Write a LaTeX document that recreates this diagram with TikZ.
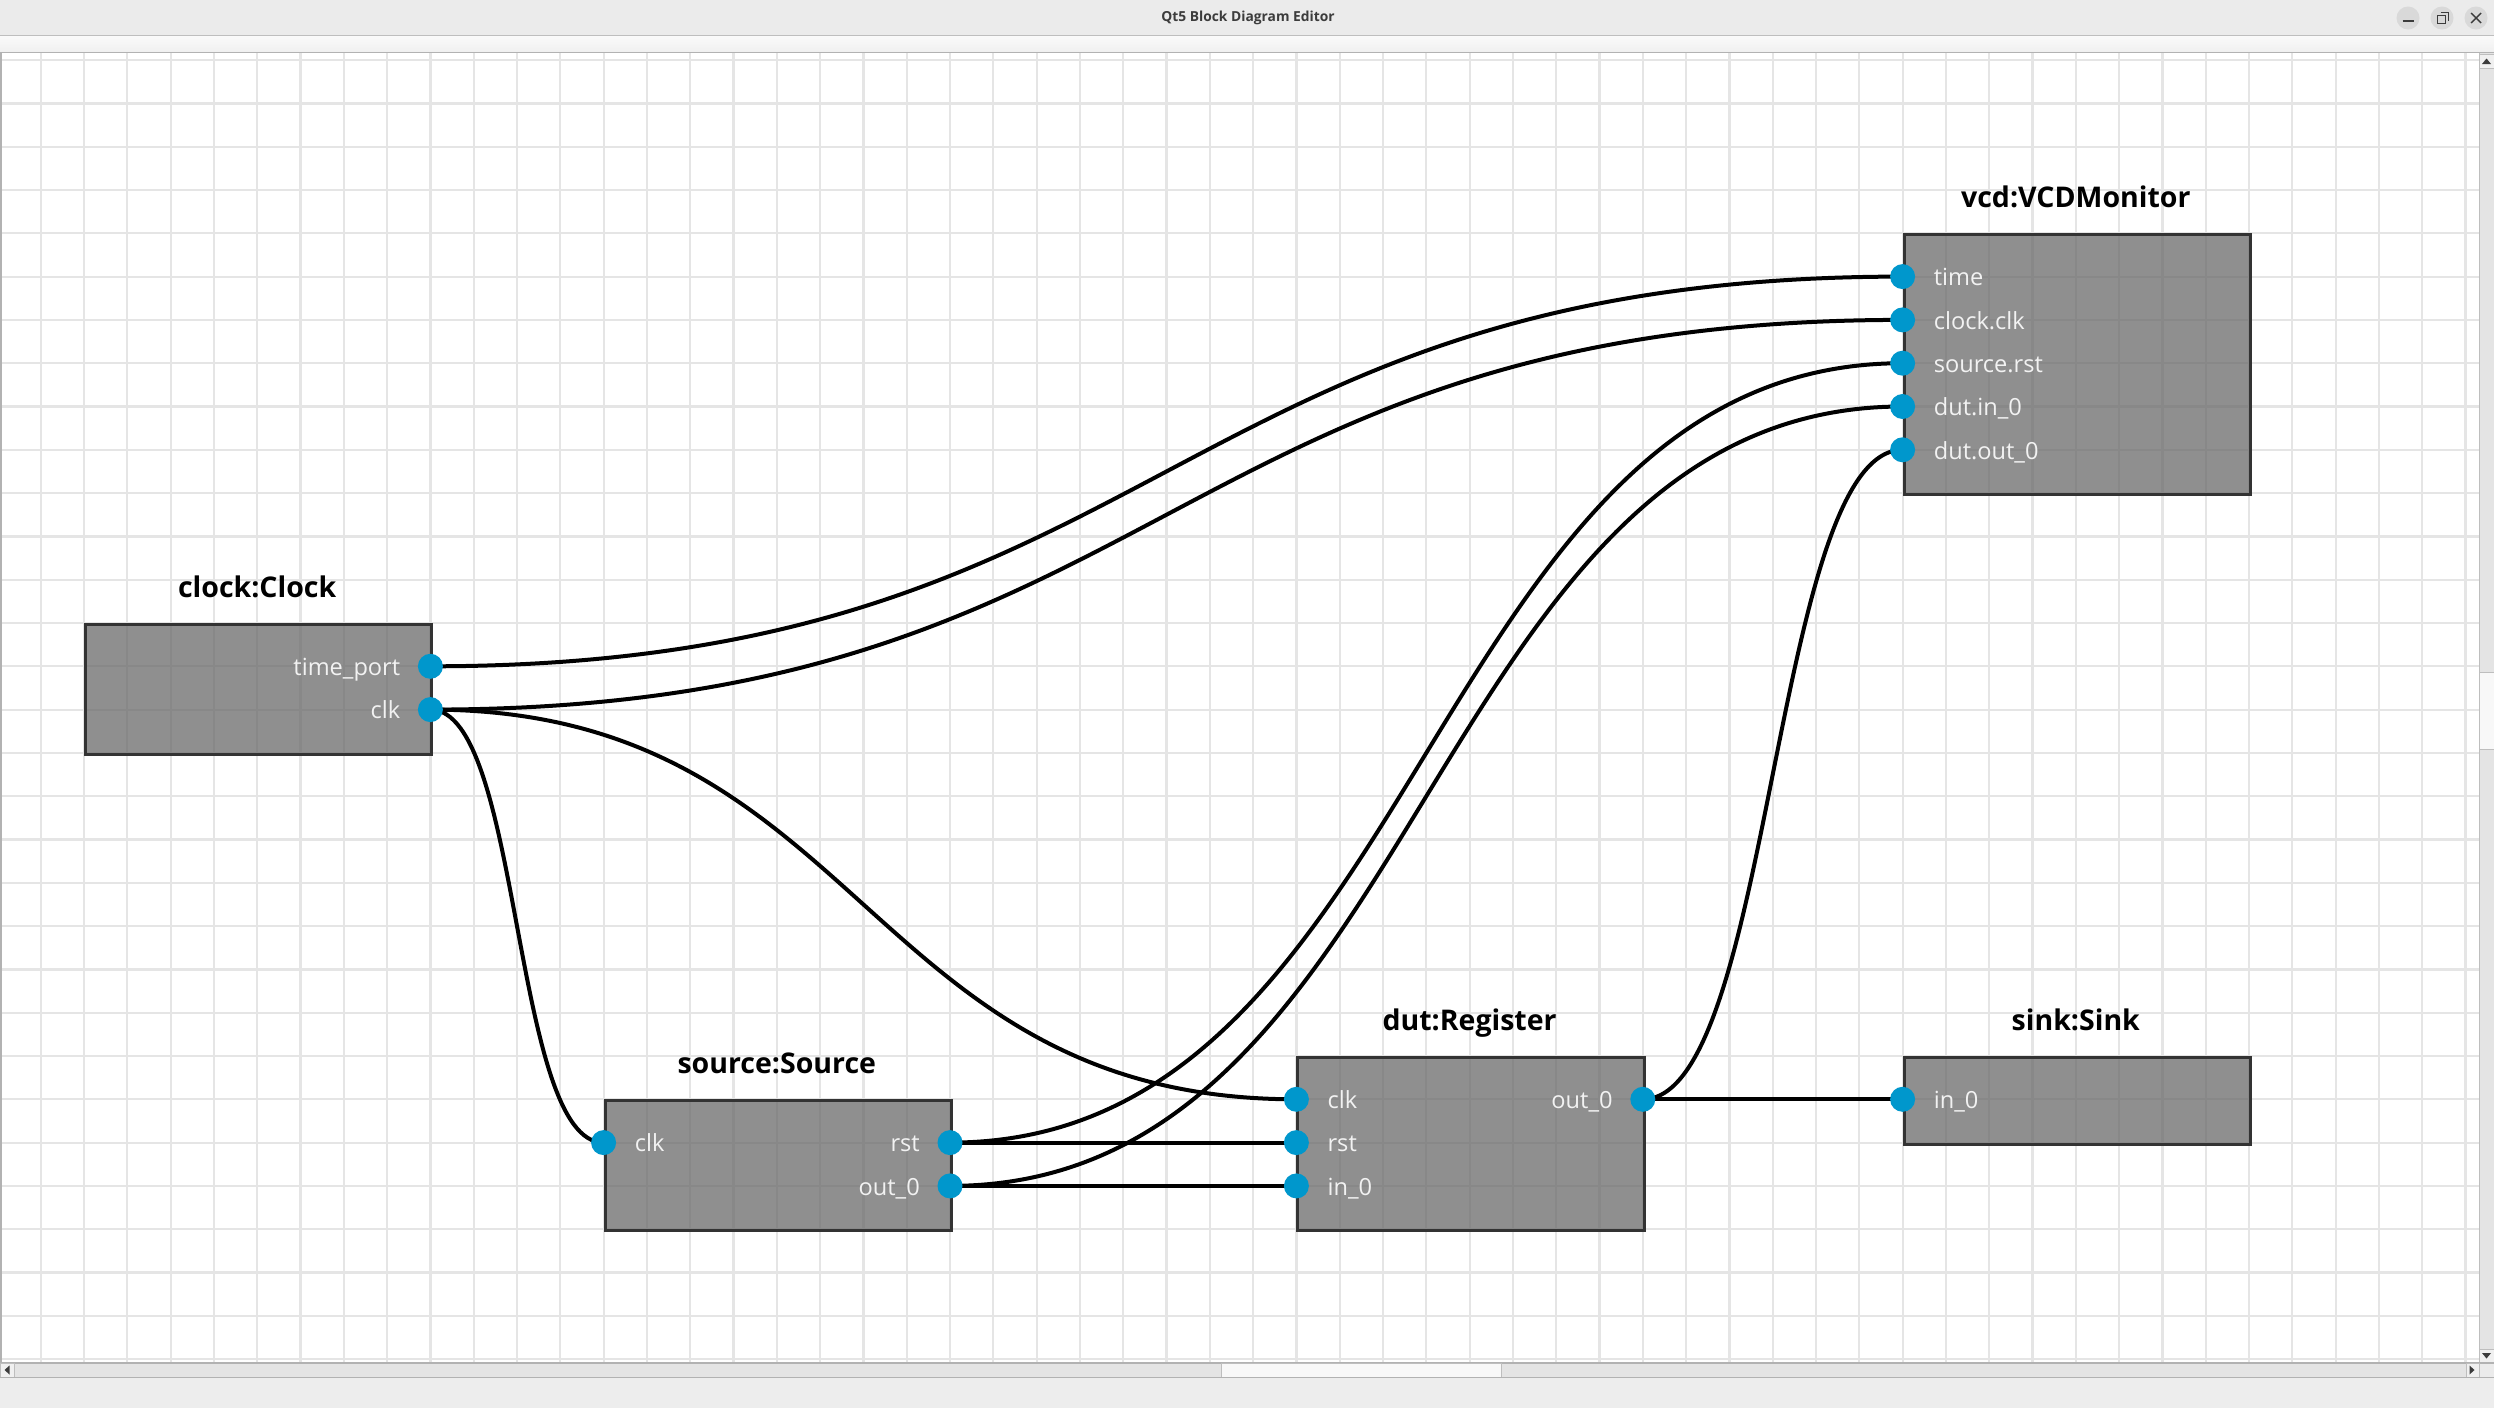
\documentclass[tikz,border=0pt]{standalone}
\usepackage{fontspec}
\setmainfont{Open Sans}
\definecolor{portblue}{RGB}{0,151,204}
\definecolor{blockfill}{RGB}{106,106,106}
\definecolor{blockedge}{RGB}{51,51,51}
\definecolor{gridc}{RGB}{229,229,229}
\definecolor{chrome}{RGB}{235,235,235}
\definecolor{chromeline}{RGB}{190,190,190}
\definecolor{track}{RGB}{228,228,228}
\definecolor{thumb}{RGB}{248,248,248}
\definecolor{labelwhite}{RGB}{242,242,242}
\definecolor{glyph}{RGB}{60,60,60}
\begin{document}
\begin{tikzpicture}[x=1pt,y=-1pt,
  gridline/.style={draw=gridc,line width=2.2pt},
  blockbox/.style={draw=blockedge,line width=3pt,fill=blockfill,fill opacity=0.75,
    rectangle,inner sep=0pt,anchor=north west,minimum width=346.4pt},
  portdot/.style={circle,fill=portblue,draw=none,minimum size=25pt,inner sep=0pt},
  wire/.style={draw=black,line width=4pt},
  blocktitle/.style={anchor=base,inner sep=0pt,font=\fontsize{28.5}{31}\selectfont\bfseries},
  plabelL/.style={anchor=base west,inner sep=0pt,text=labelwhite,font=\fontsize{23.6}{26}\selectfont},
  plabelR/.style={anchor=base east,inner sep=0pt,text=labelwhite,font=\fontsize{23.6}{26}\selectfont},
  winbtn/.style={circle,fill=black!15,draw=none,minimum size=23pt,inner sep=0pt},
  sbtn/.style={fill=black!6,draw=chromeline,line width=1pt},
  arrowglyph/.style={fill=glyph,draw=none}
]
\useasboundingbox (0,0) rectangle (2494,1408);
% ---------- window chrome ----------
\fill[chrome] (0,0) rectangle (2494,36);
\draw[chromeline,line width=1.2pt] (0,35.5) -- (2494,35.5);
\shade[top color=black!2,bottom color=black!6] (0,36.2) rectangle (2494,52);
\draw[black!30,line width=1.5pt] (0,52.5) -- (2494,52.5);
\node[font=\fontsize{13.8}{16}\selectfont\bfseries,text=glyph] (wintitle) at (1248,18) {Qt5 Block Diagram Editor};
\node[winbtn] (wmin) at (2408,18) {};
\node[winbtn] (wmax) at (2442,18) {};
\node[winbtn] (wclose) at (2476,18) {};
\draw[glyph,line width=1.4pt] (2402.5,21) -- (2413.5,21);
\draw[glyph,line width=1.3pt] (2437.5,15.5) rectangle (2445.5,23.5);
\draw[glyph,line width=1.3pt] (2440.5,12.5) -- (2448.5,12.5) -- (2448.5,20.5);
\draw[glyph,line width=1.4pt] (2471,13) -- (2481,23) (2471,23) -- (2481,13);
% ---------- canvas ----------
\fill[white] (0,53.3) rectangle (2479,1363);
\foreach \k in {-1,...,55} {\draw[gridline] ({84+\k*43.3},53.3) -- ({84+\k*43.3},1363);}
\foreach \k in {-13,...,17} {\draw[gridline] (1,{623+\k*43.3}) -- (2479,{623+\k*43.3});}
\draw[black!30,line width=1.5pt] (0.75,53) -- (0.75,1377);
% ---------- blocks ----------
\node[blockbox,minimum height=129.9pt] (bclock) at (84,623) {};
\node[blockbox,minimum height=259.8pt] (bvcd) at (1902.6,233.3) {};
\node[blockbox,minimum height=129.9pt] (bsource) at (603.6,1099.3) {};
\node[blockbox,minimum height=173.2pt] (bdut) at (1296.4,1056) {};
\node[blockbox,minimum height=86.6pt] (bsink) at (1902.6,1056) {};
% titles
\node[blocktitle] (tclock) at (257.2,597) {clock:Clock};
\node[blocktitle] (tvcd) at (2075.8,207.3) {vcd:VCDMonitor};
\node[blocktitle] (tsource) at (776.8,1073.3) {source:Source};
\node[blocktitle] (tdut) at (1469.6,1030) {dut:Register};
\node[blocktitle] (tsink) at (2075.8,1030) {sink:Sink};
% port labels
\node[plabelR] (lct) at (400.4,675.6) {time\_port};
\node[plabelR] (lcc) at (400.4,718.9) {clk};
\node[plabelL] (lvt) at (1933.6,285.9) {time};
\node[plabelL] (lvc) at (1933.6,329.2) {clock.clk};
\node[plabelL] (lvr) at (1933.6,372.5) {source.rst};
\node[plabelL] (lvi) at (1933.6,415.8) {dut.in\_0};
\node[plabelL] (lvo) at (1933.6,459.1) {dut.out\_0};
\node[plabelL] (lsc) at (634.6,1151.9) {clk};
\node[plabelR] (lsr) at (920,1151.9) {rst};
\node[plabelR] (lso) at (920,1195.2) {out\_0};
\node[plabelL] (ldc) at (1327.4,1108.6) {clk};
\node[plabelL] (ldr) at (1327.4,1151.9) {rst};
\node[plabelL] (ldi) at (1327.4,1195.2) {in\_0};
\node[plabelR] (ldo) at (1612.8,1108.6) {out\_0};
\node[plabelL] (lki) at (1933.6,1108.6) {in\_0};
% ports (coordinates)
\coordinate (cT) at (430.4,666.3);
\coordinate (cC) at (430.4,709.6);
\coordinate (vT) at (1902.6,276.6);
\coordinate (vC) at (1902.6,319.9);
\coordinate (vR) at (1902.6,363.2);
\coordinate (vI) at (1902.6,406.5);
\coordinate (vO) at (1902.6,449.8);
\coordinate (sC) at (603.6,1142.6);
\coordinate (sR) at (950,1142.6);
\coordinate (sO) at (950,1185.9);
\coordinate (dC) at (1296.4,1099.3);
\coordinate (dR) at (1296.4,1142.6);
\coordinate (dI) at (1296.4,1185.9);
\coordinate (dO) at (1642.8,1099.3);
\coordinate (kI) at (1902.6,1099.3);
% ---------- wires ----------
\draw[wire] (cT) .. controls +(736.1,0) and +(-736.1,0) .. (vT);
\draw[wire] (cC) .. controls +(736.1,0) and +(-736.1,0) .. (vC);
\draw[wire] (cC) .. controls +(92,0) and +(-92,0) .. (sC);
\draw[wire] (cC) .. controls +(433,0) and +(-433,0) .. (dC);
\draw[wire] (sR) -- (dR);
\draw[wire] (sR) .. controls +(476.3,0) and +(-476.3,0) .. (vR);
\draw[wire] (sO) -- (dI);
\draw[wire] (sO) .. controls +(476.3,0) and +(-476.3,0) .. (vI);
\draw[wire] (dO) -- (kI);
\draw[wire] (dO) .. controls +(129.9,0) and +(-129.9,0) .. (vO);
% ---------- port dots ----------
\foreach \p in {cT,cC,vT,vC,vR,vI,vO,sC,sR,sO,dC,dR,dI,dO,kI} {\node[portdot] (dot\p) at (\p) {};}
% ---------- scrollbars ----------
\fill[track] (2479,53.3) rectangle (2494,1363);
\draw[chromeline,line width=1pt] (2479,53.3) -- (2479,1363);
\draw[sbtn] (2479.5,54) rectangle (2494,68);
\fill[arrowglyph] (2482,64) -- (2491,64) -- (2486.5,58.5) -- cycle;
\draw[sbtn,fill=thumb] (2479.5,672) rectangle (2494,749);
\draw[sbtn] (2479.5,1349) rectangle (2494,1363);
\fill[arrowglyph] (2482,1353) -- (2491,1353) -- (2486.5,1358.5) -- cycle;
\fill[track] (0,1363) rectangle (2479,1377);
\draw[black!30,line width=1.5pt] (0,1363) -- (2494,1363);
\draw[sbtn] (0.5,1363.5) rectangle (14,1377);
\fill[arrowglyph] (9.5,1365.5) -- (9.5,1374.5) -- (4.5,1370) -- cycle;
\draw[sbtn,fill=thumb] (1221,1363.5) rectangle (1501,1377);
\draw[sbtn] (2466,1363.5) rectangle (2479,1377);
\fill[arrowglyph] (2469.5,1365.5) -- (2469.5,1374.5) -- (2474.5,1370) -- cycle;
\fill[black!8] (2479.5,1363.5) rectangle (2494,1377);
\fill[black!7] (0,1377.7) rectangle (2494,1408);
\draw[black!30,line width=1.5pt] (0,1377.5) -- (2494,1377.5);
\end{tikzpicture}
\end{document}
